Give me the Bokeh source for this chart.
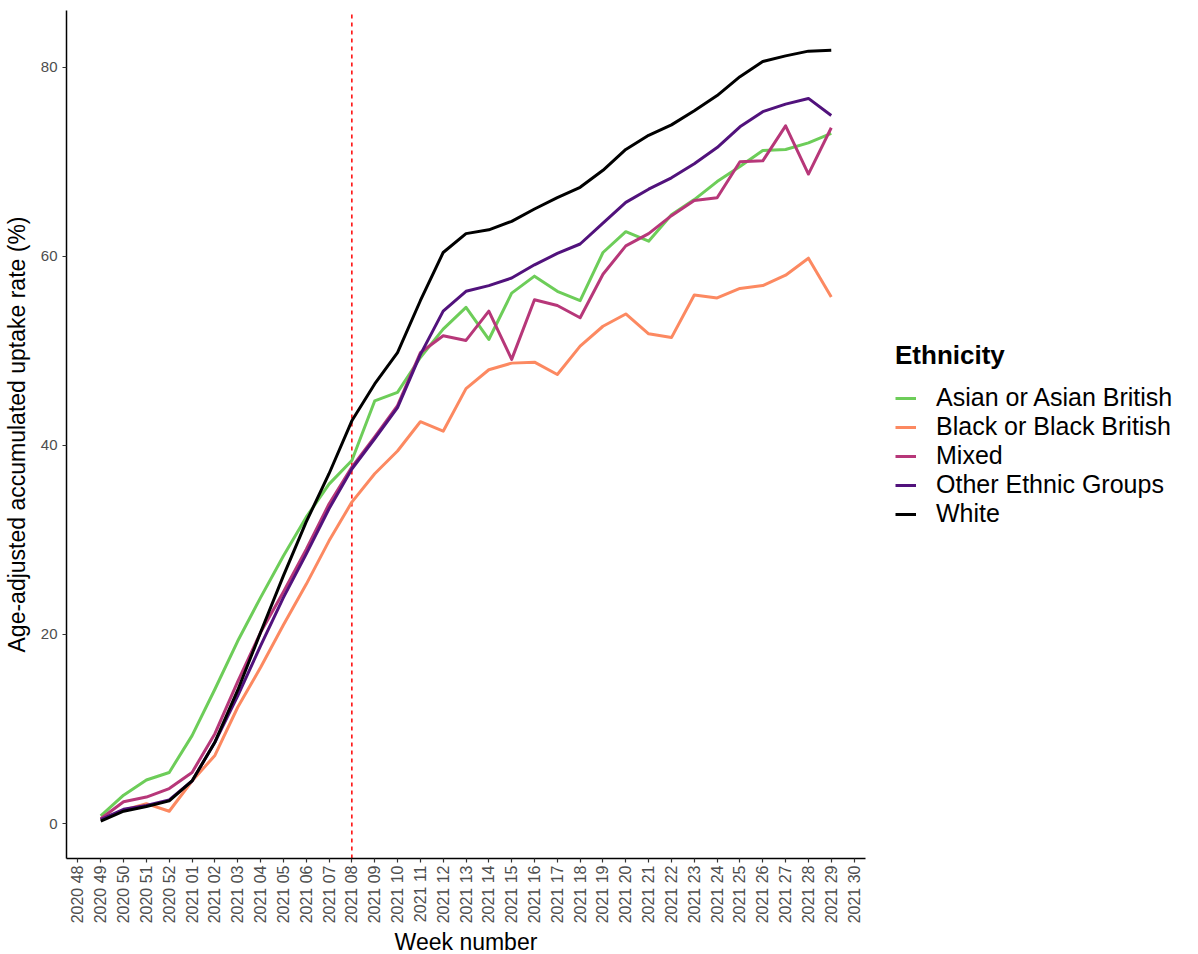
from bokeh.plotting import figure
from bokeh.models import FactorRange, Range1d, Legend, LegendItem, FixedTicker
from bokeh.embed import file_html
from bokeh.resources import INLINE
from math import pi

# ---- data ----
weeks = ["2020 48", "2020 49", "2020 50", "2020 51", "2020 52",
         "2021 01", "2021 02", "2021 03", "2021 04", "2021 05", "2021 06",
         "2021 07", "2021 08", "2021 09", "2021 10", "2021 11", "2021 12",
         "2021 13", "2021 14", "2021 15", "2021 16", "2021 17", "2021 18",
         "2021 19", "2021 20", "2021 21", "2021 22", "2021 23", "2021 24",
         "2021 25", "2021 26", "2021 27", "2021 28", "2021 29", "2021 30"]

data_weeks = ["2020 49", "2020 50", "2020 51", "2020 52",
              "2021 01", "2021 02", "2021 03", "2021 04", "2021 05", "2021 06",
              "2021 07", "2021 08", "2021 09", "2021 10", "2021 11", "2021 12",
              "2021 13", "2021 14", "2021 15", "2021 16", "2021 17", "2021 18",
              "2021 19", "2021 20", "2021 21", "2021 22", "2021 23", "2021 24",
              "2021 25", "2021 26", "2021 27", "2021 28", "2021 29"]

asian = [0.8, 3.0, 4.6, 5.4, 9.3, 14.2, 19.3, 23.9, 28.3, 32.4, 35.9, 38.4,
         44.7, 45.6, 49.3, 52.3, 54.6, 51.2, 56.1, 57.9, 56.3, 55.3, 60.4,
         62.6, 61.6, 64.4, 66.0, 67.9, 69.5, 71.2, 71.3, 72.0, 73.0]
black = [0.4, 1.4, 2.1, 1.3, 4.5, 7.2, 12.3, 16.5, 21.0, 25.3, 29.9, 34.0,
         37.0, 39.4, 42.5, 41.5, 46.0, 48.0, 48.7, 48.8, 47.5, 50.5, 52.6,
         53.9, 51.8, 51.4, 55.9, 55.6, 56.6, 56.9, 58.0, 59.8, 55.7]
mixed = [0.5, 2.3, 2.8, 3.7, 5.4, 9.5, 15.0, 20.2, 24.5, 29.0, 33.8, 37.7,
         40.9, 44.2, 49.8, 51.6, 51.1, 54.2, 49.1, 55.4, 54.8, 53.5, 58.1,
         61.1, 62.4, 64.3, 65.9, 66.2, 70.0, 70.1, 73.8, 68.7, 73.6]
other = [0.4, 1.5, 1.9, 2.5, 4.5, 8.6, 13.5, 18.8, 23.9, 28.5, 33.3, 37.5,
         40.7, 44.0, 49.6, 54.2, 56.3, 56.9, 57.7, 59.1, 60.3, 61.3, 63.5,
         65.7, 67.1, 68.3, 69.8, 71.5, 73.7, 75.3, 76.1, 76.7, 74.9]
white = [0.25, 1.3, 1.8, 2.4, 4.5, 8.6, 14.1, 20.2, 26.2, 31.9, 37.0, 42.6,
         46.5, 49.8, 55.3, 60.4, 62.4, 62.8, 63.7, 65.0, 66.2, 67.3, 69.1,
         71.3, 72.8, 73.9, 75.4, 77.0, 79.0, 80.6, 81.2, 81.7, 81.8]

series_names = ["Asian or Asian British", "Black or Black British", "Mixed",
                "Other Ethnic Groups", "White"]
series_values = [asian, black, mixed, other, white]
series_colors = ["#6DCD59", "#FC8961", "#B73779", "#51127C", "#000000"]

y_ticks = [0, 20, 40, 60, 80]
y_min, y_max = -3.7, 86.0
marker_week = "2021 08"

FONT = "Liberation Sans"

p = figure(x_range=FactorRange(factors=weeks, range_padding=0),
           y_range=Range1d(y_min, y_max),
           frame_width=799, frame_height=848,
           output_backend="svg", toolbar_location=None,
           min_border_top=10, min_border_left=0, min_border_right=0,
           min_border_bottom=0)
p.outline_line_color = None
p.xgrid.visible = False
p.ygrid.visible = False
p.background_fill_color = "white"
p.border_fill_color = "white"

# marker line
p.segment(x0=[marker_week], y0=[y_min], x1=[marker_week], y1=[y_max],
          line_color="#FF0000", line_width=1.5, line_dash="4 4")

items = []
for name, vals, col in zip(series_names, series_values, series_colors):
    r = p.line(data_weeks, vals, line_color=col, line_width=3,
               line_join="round")
    items.append(LegendItem(label=name, renderers=[r]))

# axes
for ax in (p.xaxis[0], p.yaxis[0]):
    ax.axis_line_color = "black"
    ax.axis_line_width = 1.5
    ax.major_tick_line_color = "#333333"
    ax.major_tick_line_width = 1.2
    ax.major_tick_in = 0
    ax.major_tick_out = 4
    ax.minor_tick_line_color = None
    ax.major_label_text_font = FONT
    ax.major_label_text_font_size = "15px"
    ax.major_label_text_color = "#4D4D4D"
    ax.axis_label_text_font = FONT
    ax.axis_label_text_font_size = "23px"
    ax.axis_label_text_font_style = "normal"
    ax.axis_label_text_color = "black"

p.xaxis.axis_label = "Week number"
p.xaxis.major_label_orientation = pi / 2
p.xaxis.major_label_text_font_size = "16px"
p.xaxis.major_label_standoff = 3
p.xaxis.axis_label_standoff = 3
p.xaxis.separator_line_color = None

p.yaxis.axis_label = "Age-adjusted accumulated uptake rate (%)"
p.yaxis.ticker = FixedTicker(ticks=y_ticks)
p.yaxis.major_label_standoff = 5
p.yaxis.axis_label_standoff = 8

legend = Legend(items=items, location="center_left",
                title="Ethnicity",
                title_text_font=FONT, title_text_font_size="26px",
                title_text_font_style="bold", title_text_color="black",
                title_standoff=12,
                label_text_font=FONT, label_text_font_size="25px",
                label_text_color="black",
                glyph_width=21, glyph_height=20, label_standoff=20,
                spacing=0, margin=30, padding=10,
                border_line_color=None, background_fill_alpha=0)
p.add_layout(legend, "right")

open("out.html", "w").write(file_html(p, INLINE))
